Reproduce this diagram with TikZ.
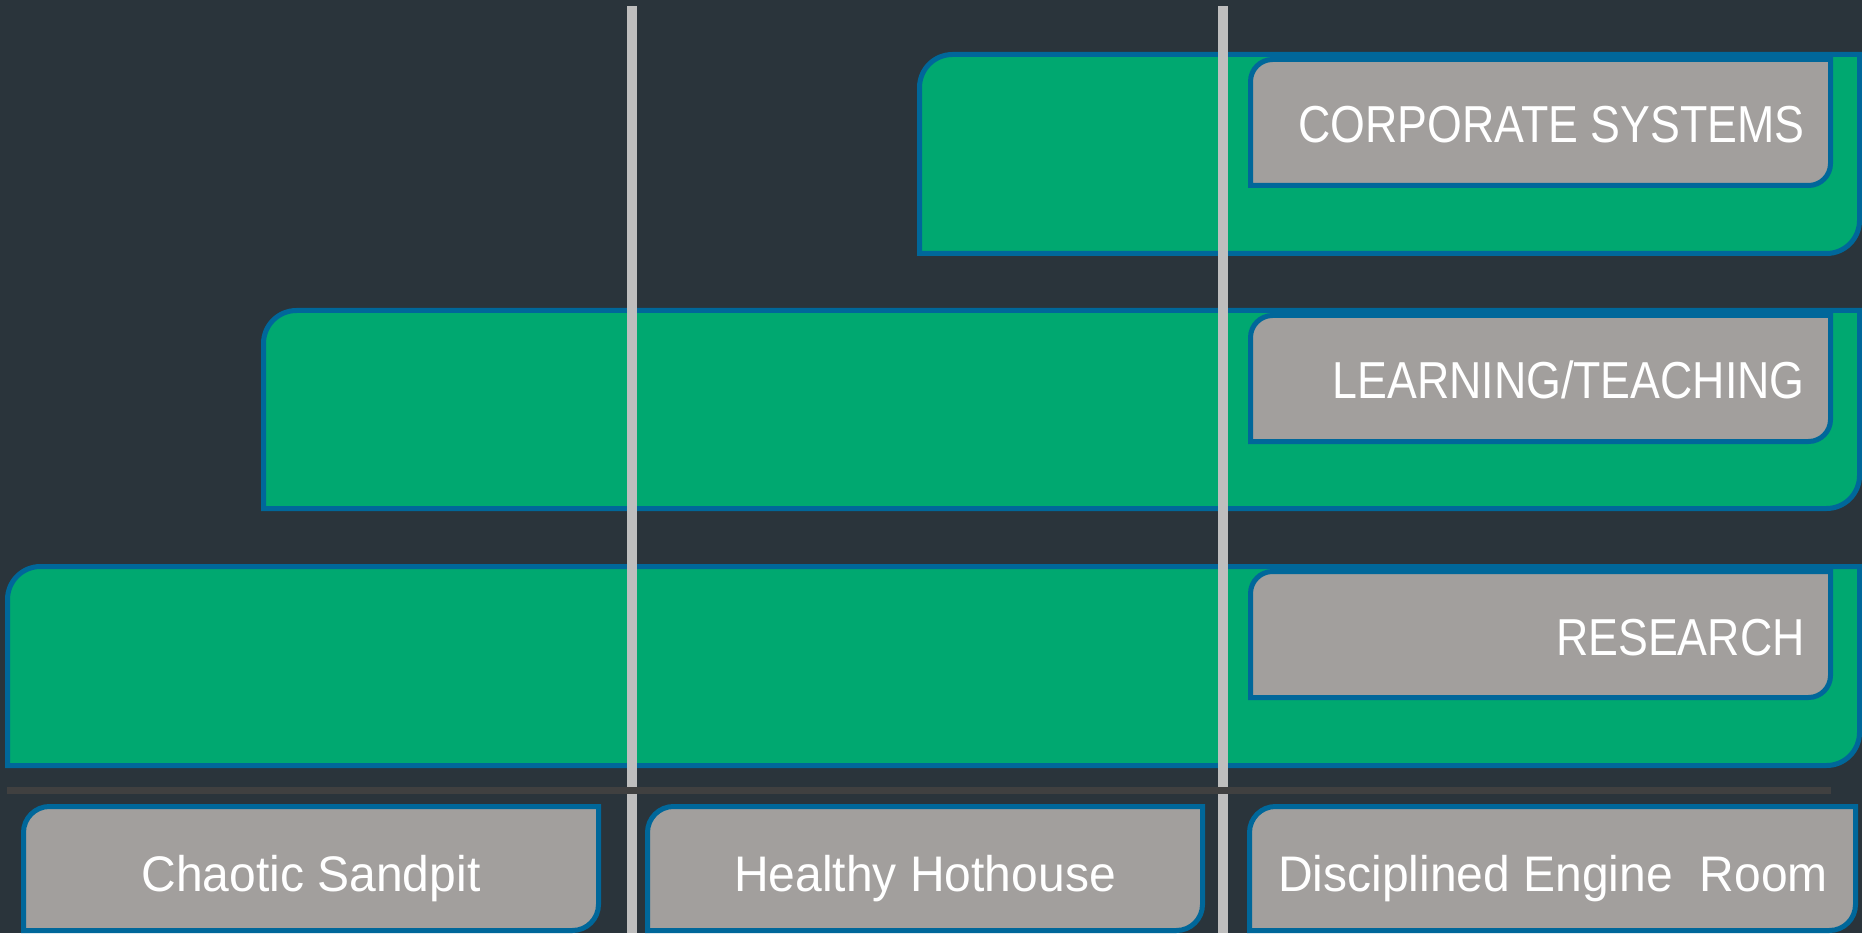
\documentclass[tikz,border=0pt]{standalone}
\usepackage{fontspec}
\setmainfont{Liberation Sans}
\newfontfamily\bandfont[FakeStretch=0.86]{Liberation Sans}
\newfontfamily\zonefont[FakeStretch=0.96]{Liberation Sans}
\definecolor{bgslate}{HTML}{2A343B}
\definecolor{bandgreen}{HTML}{00A870}
\definecolor{edgeblue}{HTML}{00679A}
\definecolor{tabgray}{HTML}{A29F9D}
\definecolor{divgray}{HTML}{BEBEBE}
\definecolor{sepgray}{HTML}{404040}
\begin{document}
\begin{tikzpicture}[x=0.5pt,y=0.5pt,
  band/.style={fill=bandgreen,draw=edgeblue,line width=2.5pt},
  tab/.style={fill=tabgray,draw=edgeblue,line width=2.5pt},
  divider/.style={draw=divgray,line width=5pt},
  bandlabel/.style={text=white,font=\bandfont\fontsize{26}{30}\selectfont,anchor=base east,inner sep=0pt},
  zonelabel/.style={text=white,font=\zonefont\fontsize{25}{30}\selectfont,anchor=base,inner sep=0pt}]
\fill[bgslate] (0,0) rectangle (1862,933);
\useasboundingbox (0,0) rectangle (1862,933);
\draw[band] (919.5,679.5) -- (919.5,845.5) arc[start angle=180,end angle=90,radius=33] -- (1859.5,878.5) -- (1859.5,712.5) arc[start angle=0,end angle=-90,radius=33] -- cycle;
\draw[band] (263.5,424.5) -- (263.5,589.5) arc[start angle=180,end angle=90,radius=33] -- (1859.5,622.5) -- (1859.5,457.5) arc[start angle=0,end angle=-90,radius=33] -- cycle;
\draw[band] (7.5,167.5) -- (7.5,333.5) arc[start angle=180,end angle=90,radius=33] -- (1859.5,366.5) -- (1859.5,200.5) arc[start angle=0,end angle=-90,radius=33] -- cycle;
\draw[tab] (1250.5,747.5) -- (1250.5,851.5) arc[start angle=180,end angle=90,radius=22] -- (1830.5,873.5) -- (1830.5,769.5) arc[start angle=0,end angle=-90,radius=22] -- cycle;
\draw[tab] (1250.5,491.5) -- (1250.5,595.5) arc[start angle=180,end angle=90,radius=22] -- (1830.5,617.5) -- (1830.5,513.5) arc[start angle=0,end angle=-90,radius=22] -- cycle;
\draw[tab] (1250.5,235.5) -- (1250.5,339.5) arc[start angle=180,end angle=90,radius=22] -- (1830.5,361.5) -- (1830.5,257.5) arc[start angle=0,end angle=-90,radius=22] -- cycle;
\draw[divider] (631.5,0) -- (631.5,927);
\draw[divider] (1223,0) -- (1223,927);
\draw[draw=sepgray,line width=3.5pt] (7,142.5) -- (1831,142.5);
\draw[tab] (23.5,2.5) -- (23.5,100.5) arc[start angle=180,end angle=90,radius=26] -- (598.5,126.5) -- (598.5,28.5) arc[start angle=0,end angle=-90,radius=26] -- cycle;
\draw[tab] (647.5,2.5) -- (647.5,100.5) arc[start angle=180,end angle=90,radius=26] -- (1202.5,126.5) -- (1202.5,28.5) arc[start angle=0,end angle=-90,radius=26] -- cycle;
\draw[tab] (1249.5,2.5) -- (1249.5,100.5) arc[start angle=180,end angle=90,radius=26] -- (1855.5,126.5) -- (1855.5,28.5) arc[start angle=0,end angle=-90,radius=26] -- cycle;
\node[bandlabel] (corp) at (1805,790) {CORPORATE SYSTEMS};
\node[bandlabel] (learn) at (1805,534) {LEARNING/TEACHING};
\node[bandlabel] (research) at (1805,278) {RESEARCH};
\node[zonelabel] (sandpit) at (311,42) {Chaotic Sandpit};
\node[zonelabel] (hothouse) at (925,42) {Healthy Hothouse};
\node[zonelabel] (engine) at (1553,42) {Disciplined Engine\ \ Room};
\end{tikzpicture}
\end{document}
